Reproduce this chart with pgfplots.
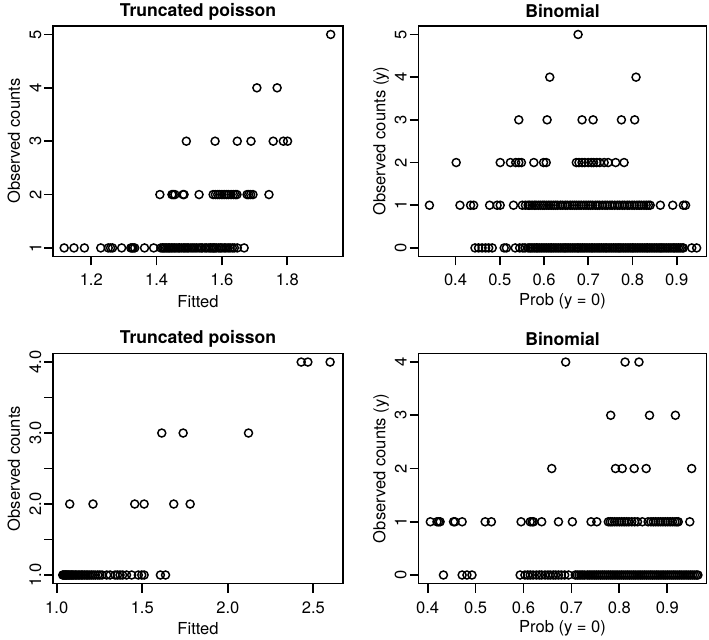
\documentclass[border=0pt]{standalone}
\usepackage{fontspec}
\setmainfont{TeX Gyre Heros}
\usepackage{pgfplots}
\pgfplotsset{compat=1.18}
\pgfplotsset{
  rpanel/.style={
    scale only axis,
    anchor=south west,
    axis line style={line width=1.3pt},
    every tick/.style={line width=1.3pt, black},
    tick align=outside,
    major tick length=6.75pt,
    xtick pos=bottom, ytick pos=left,
    /pgf/number format/assume math mode=true,
    tick label style={font=\fontsize{12.4}{14}\selectfont},
    label style={font=\fontsize{12.4}{14}\selectfont},
    every axis title shift=0pt,
    title style={font=\fontsize{13.2}{15}\selectfont\bfseries, at={(axis description cs:0.5,1.063)}, anchor=center, yshift=0pt},
    xlabel style={at={(axis description cs:0.5,-0.195)}, anchor=center},
    yticklabel style={rotate=90, anchor=south, inner sep=0pt},
    xticklabel style={anchor=north, inner sep=0pt},
    xticklabel shift=6.4pt,
    yticklabel shift=2pt,
  },
  rpts/.style={only marks, mark=o, mark size=3pt, line width=1.1pt, black, mark options={solid, fill=none}},
}
\begin{document}
\begin{tikzpicture}
\useasboundingbox (0,0) rectangle (531.75pt,479.25pt);
% Panel 1
\begin{axis}[rpanel, at={(39.98pt,286.9pt)}, width=217.1pt, height=172.9pt,
  xmin=1.0837, xmax=1.970, ymin=0.84, ymax=5.16,
  xtick={1.2,1.4,1.6,1.8}, xticklabels={1.2,1.4,1.6,1.8},
  ytick={1,2,3,4,5},
  title={Truncated poisson}, xlabel={Fitted}, ylabel={Observed counts},
  ylabel style={at={(axis description cs:-0.136,0.5)}, anchor=center}]
\addplot[rpts] coordinates {
(1.117,1)(1.147,1)(1.179,1)(1.229,1)(1.252,1)(1.259,1)(1.265,1)(1.293,1)(1.321,1)(1.325,1)(1.328,1)(1.333,1)(1.363,1)(1.391,1)
(1.413,1)(1.418,1)(1.422,1)(1.426,1)(1.431,1)(1.436,1)(1.44,1)(1.445,1)(1.45,1)(1.455,1)(1.46,1)(1.466,1)(1.47,1)(1.476,1)(1.482,1)(1.487,1)(1.493,1)(1.498,1)(1.505,1)(1.511,1)(1.517,1)(1.523,1)(1.53,1)(1.536,1)(1.54,1)(1.548,1)(1.553,1)(1.56,1)(1.565,1)(1.57,1)(1.574,1)(1.578,1)(1.583,1)(1.59,1)(1.595,1)(1.6,1)(1.607,1)(1.612,1)(1.619,1)(1.625,1)(1.632,1)(1.638,1)(1.647,1)(1.668,1)
(1.410,2)(1.447,2)(1.451,2)(1.456,2)(1.481,2)(1.484,2)(1.530,2)(1.573,2)(1.58,2)(1.587,2)(1.593,2)(1.6,2)(1.607,2)(1.614,2)(1.62,2)(1.628,2)(1.635,2)(1.641,2)(1.646,2)(1.677,2)(1.682,2)(1.688,2)(1.695,2)(1.744,2)
(1.491,3)(1.579,3)(1.647,3)(1.689,3)(1.757,3)(1.788,3)(1.801,3)
(1.707,4)(1.769,4)
(1.933,5)
};
\end{axis}
% Panel 2
\begin{axis}[rpanel, at={(313.9pt,286.9pt)}, width=216pt, height=172.9pt,
  xmin=0.3164, xmax=0.9674, ymin=-0.2, ymax=5.2,
  xtick={0.4,0.5,0.6,0.7,0.8,0.9}, xticklabels={0.4,0.5,0.6,0.7,0.8,0.9},
  ytick={0,1,2,3,4,5},
  title={Binomial}, xlabel={Prob (y = 0)}, ylabel={Observed counts (y)},
  ylabel style={at={(axis description cs:-0.130,0.5)}, anchor=center}]
\addplot[rpts] coordinates {
(0.444,0)(0.452,0)(0.46,0)(0.468,0)(0.475,0)(0.483,0)(0.51,0)(0.515,0)(0.535,0)(0.545,0)(0.552,0)(0.557,0)
(0.564,0)(0.568,0)(0.571,0)(0.575,0)(0.579,0)(0.583,0)(0.586,0)(0.59,0)(0.594,0)(0.598,0)(0.602,0)(0.606,0)(0.61,0)(0.614,0)(0.617,0)(0.621,0)(0.625,0)(0.629,0)(0.633,0)(0.637,0)(0.641,0)(0.645,0)(0.648,0)(0.652,0)(0.656,0)(0.66,0)(0.664,0)(0.668,0)(0.672,0)(0.676,0)(0.679,0)(0.683,0)(0.687,0)(0.691,0)(0.695,0)(0.699,0)(0.703,0)(0.707,0)(0.71,0)(0.714,0)(0.718,0)(0.722,0)(0.726,0)(0.73,0)(0.734,0)(0.738,0)(0.741,0)(0.745,0)(0.749,0)(0.753,0)(0.757,0)(0.761,0)(0.765,0)(0.769,0)(0.772,0)(0.776,0)(0.78,0)(0.784,0)(0.788,0)(0.792,0)(0.796,0)(0.8,0)(0.803,0)(0.807,0)(0.811,0)(0.815,0)(0.819,0)(0.823,0)(0.827,0)(0.831,0)(0.834,0)(0.838,0)(0.842,0)(0.846,0)(0.85,0)(0.854,0)(0.858,0)(0.862,0)(0.865,0)(0.869,0)(0.873,0)(0.877,0)(0.881,0)(0.885,0)(0.889,0)(0.893,0)(0.896,0)(0.9,0)(0.904,0)(0.908,0)(0.912,0)(0.915,0)(0.934,0)(0.945,0)
(0.341,1)(0.41,1)(0.434,1)(0.441,1)(0.477,1)(0.494,1)(0.501,1)(0.531,1)
(0.551,1)(0.558,1)(0.564,1)(0.568,1)(0.573,1)(0.578,1)(0.582,1)(0.587,1)(0.592,1)(0.597,1)(0.601,1)(0.606,1)(0.611,1)(0.616,1)(0.621,1)(0.626,1)(0.631,1)(0.637,1)(0.642,1)(0.648,1)(0.653,1)(0.659,1)(0.664,1)(0.669,1)(0.674,1)(0.679,1)(0.684,1)(0.69,1)(0.695,1)(0.7,1)(0.705,1)(0.71,1)(0.716,1)(0.721,1)(0.726,1)(0.732,1)(0.738,1)(0.743,1)(0.749,1)(0.754,1)(0.76,1)(0.766,1)(0.771,1)(0.777,1)(0.782,1)(0.788,1)(0.793,1)(0.799,1)(0.804,1)(0.81,1)(0.815,1)(0.82,1)(0.826,1)(0.831,1)(0.836,1)(0.840,1)
(0.863,1)(0.891,1)(0.915,1)(0.920,1)
(0.4015,2)(0.501,2)(0.524,2)(0.536,2)(0.543,2)(0.549,2)(0.577,2)(0.599,2)(0.605,2)(0.673,2)(0.679,2)(0.686,2)(0.692,2)(0.700,2)(0.707,2)(0.712,2)(0.719,2)(0.726,2)(0.736,2)(0.745,2)(0.762,2)(0.781,2)
(0.543,3)(0.607,3)(0.686,3)(0.711,3)(0.775,3)(0.805,3)
(0.613,4)(0.808,4)
(0.677,5)
};
\end{axis}
% Panel 3
\begin{axis}[rpanel, at={(39.98pt,41.6pt)}, width=217.1pt, height=172.5pt,
  xmin=0.980, xmax=2.672, ymin=0.88, ymax=4.12,
  xtick={1.0,1.5,2.0,2.5}, xticklabels={1.0,1.5,2.0,2.5},
  ytick={1,1.5,2,2.5,3,3.5,4}, yticklabels={1.0,,2.0,,3.0,,4.0},
  title={Truncated poisson}, xlabel={Fitted}, ylabel={Observed counts},
  ylabel style={at={(axis description cs:-0.136,0.5)}, anchor=center}]
\addplot[rpts] coordinates {
(1.035,1)(1.04,1)(1.045,1)(1.05,1)(1.055,1)(1.06,1)(1.066,1)(1.072,1)(1.078,1)(1.085,1)(1.092,1)(1.1,1)(1.108,1)(1.116,1)(1.125,1)(1.134,1)(1.143,1)(1.152,1)(1.162,1)(1.172,1)(1.182,1)(1.192,1)(1.203,1)(1.214,1)(1.226,1)(1.24,1)(1.252,1)(1.265,1)
(1.292,1)(1.312,1)(1.341,1)(1.355,1)(1.370,1)(1.385,1)(1.408,1)(1.438,1)(1.477,1)(1.497,1)(1.511,1)(1.606,1)(1.636,1)
(1.076,2)(1.212,2)(1.456,2)(1.511,2)(1.684,2)(1.780,2)
(1.614,3)(1.739,3)(2.121,3)
(2.429,4)(2.468,4)(2.598,4)
};
\end{axis}
% Panel 4
\begin{axis}[rpanel, at={(313.9pt,41.6pt)}, width=216pt, height=172.5pt,
  xmin=0.381, xmax=0.982, ymin=-0.16, ymax=4.16,
  xtick={0.4,0.5,0.6,0.7,0.8,0.9}, xticklabels={0.4,0.5,0.6,0.7,0.8,0.9},
  ytick={0,1,2,3,4},
  title={Binomial}, xlabel={Prob (y = 0)}, ylabel={Observed counts (y)},
  ylabel style={at={(axis description cs:-0.130,0.5)}, anchor=center}]
\addplot[rpts] coordinates {
(0.433,0)(0.472,0)(0.482,0)(0.4925,0)
(0.593,0)(0.603,0)(0.609,0)(0.614,0)(0.62,0)(0.627,0)(0.633,0)(0.638,0)(0.645,0)(0.651,0)(0.656,0)(0.662,0)(0.667,0)(0.673,0)(0.679,0)(0.686,0)(0.694,0)
(0.708,0)(0.712,0)(0.716,0)(0.72,0)(0.724,0)(0.728,0)(0.733,0)(0.737,0)(0.741,0)(0.745,0)(0.749,0)(0.753,0)(0.757,0)(0.761,0)(0.765,0)(0.769,0)(0.773,0)(0.777,0)(0.781,0)(0.785,0)(0.789,0)(0.793,0)(0.797,0)(0.801,0)(0.805,0)(0.809,0)(0.813,0)(0.817,0)(0.821,0)(0.825,0)(0.829,0)(0.833,0)(0.837,0)(0.841,0)(0.845,0)(0.849,0)(0.853,0)(0.857,0)(0.861,0)(0.865,0)(0.869,0)(0.873,0)(0.877,0)(0.881,0)(0.885,0)(0.889,0)(0.893,0)(0.897,0)(0.901,0)(0.905,0)(0.909,0)(0.913,0)(0.917,0)(0.921,0)(0.925,0)(0.929,0)(0.933,0)(0.937,0)(0.941,0)(0.945,0)(0.949,0)(0.953,0)(0.957,0)(0.961,0)(0.964,0)
(0.4056,1)(0.4195,1)(0.423,1)(0.426,1)(0.454,1)(0.457,1)(0.472,1)(0.520,1)(0.533,1)(0.595,1)(0.614,1)(0.618,1)(0.621,1)(0.638,1)(0.673,1)(0.702,1)(0.741,1)(0.753,1)
(0.777,1)(0.781,1)(0.785,1)(0.79,1)(0.795,1)(0.8,1)(0.805,1)(0.81,1)(0.815,1)(0.82,1)(0.826,1)(0.832,1)(0.838,1)(0.848,1)(0.86,1)(0.866,1)(0.871,1)(0.876,1)(0.881,1)(0.886,1)(0.891,1)(0.896,1)(0.901,1)(0.906,1)(0.911,1)(0.916,1)(0.92,1)(0.923,1)(0.947,1)
(0.659,2)(0.792,2)(0.806,2)(0.831,2)(0.856,2)(0.951,2)
(0.782,3)(0.863,3)(0.917,3)
(0.688,4)(0.812,4)(0.841,4)
};
\end{axis}
\end{tikzpicture}
\end{document}
